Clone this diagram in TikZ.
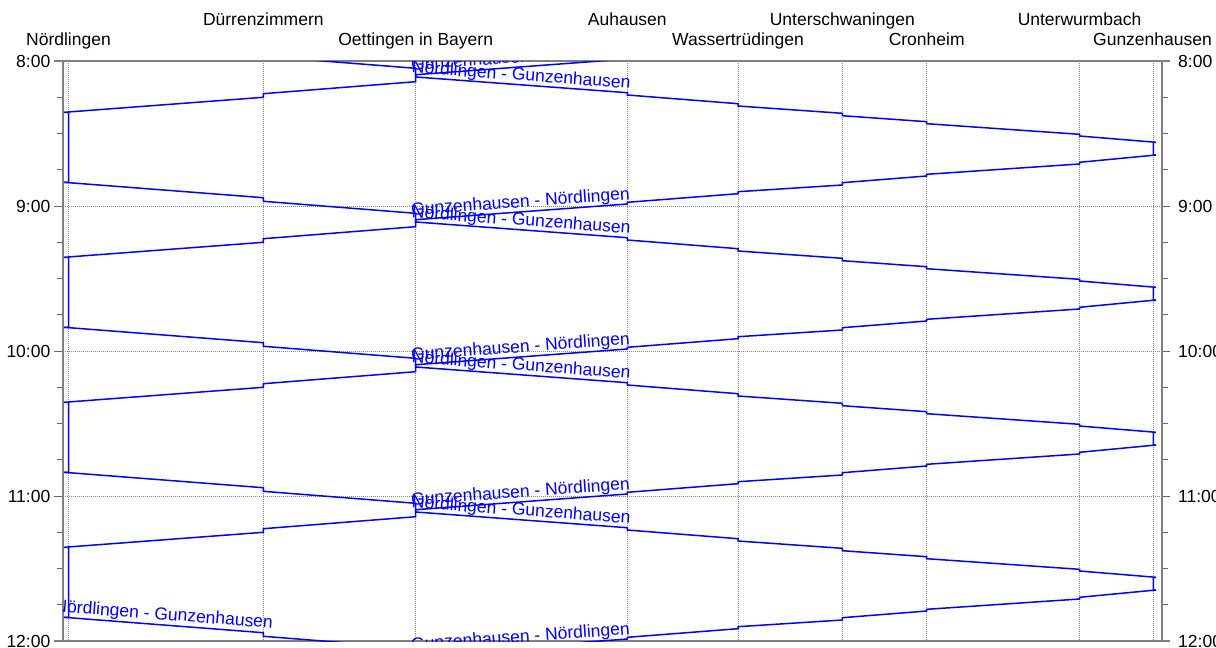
\documentclass[tikz,border=0pt]{standalone}
\usepackage{fontspec}
\setmainfont{Liberation Sans}
\begin{document}
\begin{tikzpicture}[x=1pt,y=-1pt,
  lbl/.style={font=\fontsize{17.5}{21}\selectfont, inner sep=0pt},
  axisline/.style={draw=black!50, line width=1.3pt},
  tickline/.style={draw=black!60, line width=0.9pt},
  gridline/.style={draw=black!45, line width=0.8pt, dash pattern=on 1pt off 1pt},
  train/.style={draw=blue, line width=1.5pt, line join=miter},
  trainlbl/.style={lbl, text=blue, anchor=base west}]
\useasboundingbox (0,0) rectangle (1216,648);

% station grid lines
\foreach \x in {68.5,263.3,415.7,627.3,738,842.3,926.7,1079.5,1153.3}
  \draw[gridline] (\x,61) -- (\x,641);
% hour grid lines
\foreach \y in {206,351,496}
  \draw[gridline] (63,\y) -- (1162,\y);

% station names, two staggered rows
\foreach \x/\y/\nm/\txt in {
   68.5/45.7/sNoe/Nördlingen,
   263.3/25.3/sDue/Dürrenzimmern,
   415.7/45.7/sOet/Oettingen in Bayern,
   627.3/25.3/sAuh/Auhausen,
   738/45.7/sWas/Wassertrüdingen,
   842.3/25.3/sUsw/Unterschwaningen,
   926.7/45.7/sCro/Cronheim,
   1079.5/25.3/sUwb/Unterwurmbach,
   1152.5/45.7/sGun/Gunzenhausen}
  \node[lbl, anchor=base] (\nm) at (\x,\y) {\txt};

% quarter-hour ticks
\foreach \i in {0,...,16}{
  \pgfmathsetmacro{\ty}{61+36.25*\i}
  \draw[tickline] (57,\ty) -- (63,\ty);
  \draw[tickline] (1162,\ty) -- (1168,\ty);
}
% hour ticks and time labels
\foreach \t [count=\i from 0] in {8:00,9:00,10:00,11:00,12:00}{
  \pgfmathsetmacro{\ty}{61+145*\i}
  \draw[tickline] (54,\ty) -- (63,\ty);
  \draw[tickline] (1162,\ty) -- (1170,\ty);
  \node[lbl, anchor=east] (tl\i) at (50.5,\ty) {\t};
  \node[lbl, anchor=west] (tr\i) at (1178,\ty) {\t};
}

% frame
\draw[axisline] (63,61) -- (63,641);
\draw[axisline] (1162,61) -- (1162,641);
\draw[axisline] (54,61) -- (1170,61);
\draw[axisline] (54,641) -- (1170,641);

% train paths, repeating every hour
\begin{scope}
  \clip (63,61) rectangle (1162,641);
  \foreach \H in {61,206,351,496,641}{
    \begin{scope}[shift={(0,\H)}]
      % Nördlingen -> Gunzenhausen, with turnaround at Gunzenhausen
      \draw[train] (64,-23.7) -- (263.3,-8.3) -- (263.3,-4.7) -- (415.7,7.3)
        -- (415.7,16) -- (627.3,31.7) -- (627.3,34) -- (738,42.7) -- (738,45)
        -- (842.3,52.3) -- (842.3,54.7) -- (926.7,60.7) -- (926.7,62.7)
        -- (1079.5,73.3) -- (1079.5,75) -- (1156,81.3) -- (1153.3,81.3)
        -- (1153.3,94) -- (1156,94);
      % Gunzenhausen -> Nördlingen, with turnaround at Nördlingen
      \draw[train] (1156,-51) -- (1079.5,-43.7) -- (1079.5,-42) -- (926.7,-31.7)
        -- (926.7,-30) -- (842.3,-23.3) -- (842.3,-21) -- (738,-14.3)
        -- (738,-12.3) -- (627.3,-3.7) -- (627.3,-2) -- (415.7,13.7)
        -- (415.7,20.7) -- (263.3,32.7) -- (263.3,36.3) -- (64,51.3)
        -- (68.5,51.3) -- (68.5,121.3) -- (64,121.3);
      \node[trainlbl, rotate=4.1] (gn\H) at (411.5,9.2) {Gunzenhausen - Nördlingen};
      \ifnum\H<641
        \node[trainlbl, rotate=-4.1] (ng\H) at (411.5,11.8) {Nördlingen - Gunzenhausen};
      \fi
    \end{scope}
  }
  \node[trainlbl, rotate=-4.4] (ngLast) at (54,611.5) {Nördlingen - Gunzenhausen};
\end{scope}
\end{tikzpicture}
\end{document}
